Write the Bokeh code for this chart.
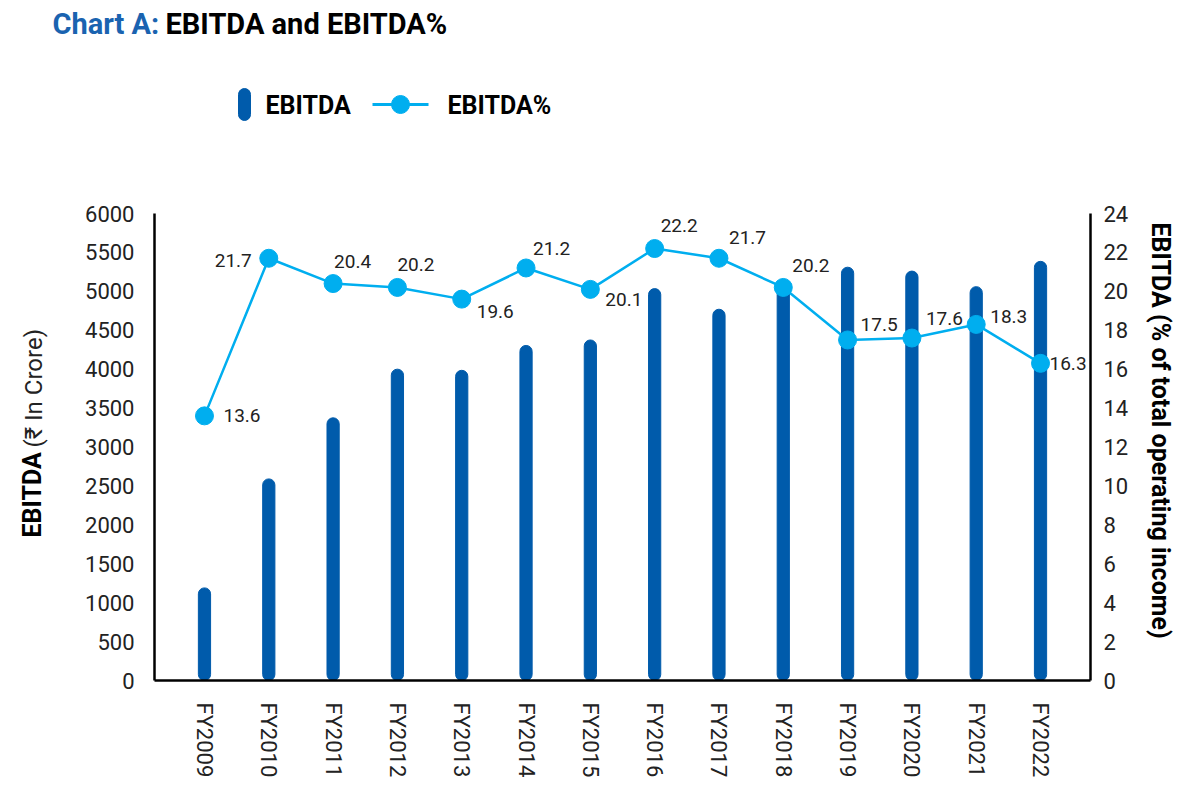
from math import pi
from bokeh.plotting import figure
from bokeh.layouts import column, row
from bokeh.models import (FactorRange, Range1d, LinearAxis, SingleIntervalTicker,
                          ColumnDataSource)
from bokeh.embed import file_html
from bokeh.resources import INLINE
from bokeh.core.properties import value

# ---------------- data ----------------
years = ["FY2009", "FY2010", "FY2011", "FY2012", "FY2013", "FY2014", "FY2015",
         "FY2016", "FY2017", "FY2018", "FY2019", "FY2020", "FY2021", "FY2022"]
ebitda = [1190, 2590, 3375, 4000, 3985, 4305, 4375, 5035, 4770, 5100, 5310, 5260, 5060, 5385]
ebitda_pct = [13.6, 21.7, 20.4, 20.2, 19.6, 21.2, 20.1, 22.2, 21.7, 20.2, 17.5, 17.6, 18.3, 16.3]

series_names = ["EBITDA", "EBITDA%"]
title_prefix = "Chart A:"
title_text = "EBITDA and EBITDA%"
left_title_bold = "EBITDA"
left_title_rest = "(₹ In Crore)"
right_title = "EBITDA (% of total operating income)"

# label placement (styling, pixels relative to each marker)
label_dx = [19, -17, 1, 0, 15, 7, 15, 6, 10, 9, 13, 14, 14, 9]
label_dy = [0, 2, -22, -23, 12, -19, 10, -23, -21, -22, -15, -20, -8, 0]
label_align = ["left", "right"] + ["left"] * 12

FONT = "Roboto"
BAR_COLOR = "#005bab"
LINE_COLOR = "#00aeef"
TEXT_COLOR = "#222222"
TITLE_BLUE = "#1a63b0"

TOTAL_W = 1192
HEAD_H = 198
SIDE_W = 60
RSIDE_W = 60
MAIN_H = 606
FRAME_TOP, FRAME_BOTTOM = 213, 680
FRAME_LEFT, FRAME_RIGHT = 154, 1090


def bare(width, height, xr, yr, **kw):
    f = figure(width=width, height=height, x_range=xr, y_range=yr,
               output_backend="svg", toolbar_location=None,
               x_axis_location=None, y_axis_location=None,
               min_border=0, **kw)
    f.outline_line_color = None
    f.xgrid.grid_line_color = None
    f.ygrid.grid_line_color = None
    return f


# ---------------- header: title + legend ----------------
head = bare(TOTAL_W, HEAD_H, Range1d(0, TOTAL_W), Range1d(HEAD_H, 0),
            min_border_left=0, min_border_right=0, min_border_top=0, min_border_bottom=0)
head.text(x=[52], y=[23], text=[title_prefix], text_align="left", text_baseline="middle",
          text_font=value(FONT), text_font_size="29px", text_font_style="bold",
          text_color=TITLE_BLUE)
head.text(x=[165], y=[23], text=[title_text], text_align="left", text_baseline="middle",
          text_font=value(FONT), text_font_size="29px", text_font_style="bold",
          text_color="black")
# legend key: bar
head.quad(left=[238], right=[250], top=[88], bottom=[120], border_radius=6,
          fill_color=BAR_COLOR, line_color=BAR_COLOR)
head.text(x=[265], y=[105], text=[series_names[0]], text_align="left", text_baseline="middle",
          text_font=value(FONT), text_font_size="25px", text_font_style="bold",
          text_color="black")
# legend key: line with marker
head.line(x=[372, 428], y=[104, 104], line_color=LINE_COLOR, line_width=3)
head.scatter(x=[400], y=[104], size=18, marker="circle",
             fill_color=LINE_COLOR, line_color=LINE_COLOR)
head.text(x=[447], y=[105], text=[series_names[1]], text_align="left", text_baseline="middle",
          text_font=value(FONT), text_font_size="25px", text_font_style="bold",
          text_color="black")

# ---------------- side panels: axis titles ----------------
side_borders = dict(min_border_left=0, min_border_right=0,
                    min_border_top=FRAME_TOP - HEAD_H,
                    min_border_bottom=HEAD_H + MAIN_H - FRAME_BOTTOM)
side = bare(SIDE_W, MAIN_H, Range1d(0, SIDE_W), Range1d(FRAME_BOTTOM, FRAME_TOP),
            **side_borders)
side.text(x=[32], y=[537], text=[left_title_bold], angle=pi / 2, text_align="left",
          text_baseline="middle", text_font=value(FONT), text_font_size="25px",
          text_font_style="bold", text_color="black")
side.text(x=[33], y=[447], text=[left_title_rest], angle=pi / 2, text_align="left",
          text_baseline="middle", text_font=value(FONT), text_font_size="24px",
          text_color=TEXT_COLOR)

rx0 = TOTAL_W - RSIDE_W
rside = bare(RSIDE_W, MAIN_H, Range1d(rx0, TOTAL_W), Range1d(FRAME_BOTTOM, FRAME_TOP),
             **side_borders)
rside.text(x=[1160], y=[222], text=[right_title], angle=-pi / 2, text_align="left",
           text_baseline="middle", text_font=value(FONT), text_font_size="25px",
           text_font_style="bold", text_color="black")

# ---------------- main chart ----------------
src = ColumnDataSource(dict(
    year=years, ebitda=ebitda, pct=ebitda_pct,
    pct_label=[f"{v:.1f}" for v in ebitda_pct],
    dx=label_dx, dy=label_dy, align=label_align,
))

p = figure(x_range=FactorRange(factors=years, range_padding=0.0396),
           y_range=Range1d(0, 6000),
           width=TOTAL_W - SIDE_W - RSIDE_W, height=MAIN_H, output_backend="svg",
           toolbar_location=None,
           min_border_left=FRAME_LEFT - SIDE_W, min_border_right=rx0 - FRAME_RIGHT,
           min_border_top=FRAME_TOP - HEAD_H, min_border_bottom=HEAD_H + MAIN_H - FRAME_BOTTOM)
p.extra_y_ranges = {"pct": Range1d(0, 24)}
p.outline_line_color = None
p.xgrid.grid_line_color = None
p.ygrid.grid_line_color = None

xa = p.xaxis[0]
xa.major_label_orientation = "vertical"
xa.major_tick_line_color = None
xa.minor_tick_line_color = None
xa.axis_line_color = "black"
xa.axis_line_width = 2.5
xa.major_label_standoff = 16
xa.major_label_text_font = FONT
xa.major_label_text_font_size = "22px"
xa.major_label_text_color = TEXT_COLOR

ya = p.yaxis[0]
ya.ticker = SingleIntervalTicker(interval=500, num_minor_ticks=0)
ya.major_tick_line_color = None
ya.minor_tick_line_color = None
ya.axis_line_color = "black"
ya.axis_line_width = 2.5
ya.major_label_standoff = 14
ya.major_label_text_font = FONT
ya.major_label_text_font_size = "22px"
ya.major_label_text_color = TEXT_COLOR

ra = LinearAxis(y_range_name="pct",
                ticker=SingleIntervalTicker(interval=2, num_minor_ticks=0))
ra.major_tick_line_color = None
ra.minor_tick_line_color = None
ra.axis_line_color = "black"
ra.axis_line_width = 2.5
ra.major_label_standoff = 7
ra.major_label_text_font = FONT
ra.major_label_text_font_size = "22px"
ra.major_label_text_color = TEXT_COLOR
p.add_layout(ra, "right")

p.vbar(x="year", top="ebitda", width=0.19, source=src,
       fill_color=BAR_COLOR, line_color=BAR_COLOR, border_radius=6)
p.line(x="year", y="pct", source=src, y_range_name="pct",
       line_color=LINE_COLOR, line_width=2.5)
p.scatter(x="year", y="pct", source=src, y_range_name="pct", marker="circle",
          size=18, fill_color=LINE_COLOR, line_color=LINE_COLOR)
p.text(x="year", y="pct", text="pct_label", source=src, y_range_name="pct",
       x_offset="dx", y_offset="dy", text_align="align", text_baseline="middle",
       text_font=value(FONT), text_font_size="19px", text_color=TEXT_COLOR)

layout = column(head, row(side, p, rside, spacing=0), spacing=0)
open("out.html", "w").write(file_html(layout, INLINE))
